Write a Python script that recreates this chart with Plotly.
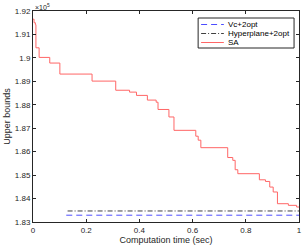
import plotly.graph_objects as go

# SA step data (x: computation time in sec, y: upper bound in units of 1e5)
sa_time = [0.0, 0.004, 0.009, 0.011, 0.023, 0.063, 0.101, 0.222, 0.311, 0.363,
           0.389, 0.430, 0.463, 0.470, 0.511, 0.530, 0.612, 0.621, 0.631, 0.732,
           0.751, 0.760, 0.770, 0.851, 0.874, 0.890, 0.903, 0.919, 0.960, 0.991, 1.0]
sa_bound = [1.9165, 1.9150, 1.9142, 1.9043, 1.9002, 1.8978, 1.8931, 1.8901, 1.8862, 1.8854,
            1.8840, 1.8820, 1.8811, 1.8780, 1.8748, 1.8691, 1.8666, 1.8649, 1.8617, 1.8575,
            1.8563, 1.8523, 1.8506, 1.8480, 1.8473, 1.8449, 1.8428, 1.8378, 1.8371, 1.8364, 1.8364]

vc_time = [0.125, 1.0]
vc_bound = [1.8329, 1.8329]
hp_time = [0.13, 1.0]
hp_bound = [1.8347, 1.8347]

x_ticks = [0, 0.2, 0.4, 0.6, 0.8, 1.0]
x_ticktext = ["0", "0.2", "0.4", "0.6", "0.8", "1"]
y_ticks = [1.83, 1.84, 1.85, 1.86, 1.87, 1.88, 1.89, 1.90, 1.91, 1.92]
y_ticktext = ["1.83", "1.84", "1.85", "1.86", "1.87", "1.88", "1.89", "1.9", "1.91", "1.92"]

series_names = ["Vc+2opt", "Hyperplane+2opt", "SA"]
series_colors = ["#4d4dff", "#404040", "#ff6666"]
series_dash = ["6px,4px", "5px,2px,1px,2px", "solid"]

FONT = "Liberation Sans, Arial, Helvetica, sans-serif"
AX = "#262626"

W, H = 305, 248
ML, MR, MT, MB = 33, 3, 11, 26
PW, PH = W - ML - MR, H - MT - MB


def px_x(p):
    return (p - ML) / PW


def px_y(p):
    return (H - MB - p) / PH


fig = go.Figure()
fig.add_trace(go.Scatter(x=vc_time, y=vc_bound, mode="lines", name=series_names[0],
                         showlegend=False,
                         line=dict(color=series_colors[0], width=1, dash=series_dash[0])))
fig.add_trace(go.Scatter(x=hp_time, y=hp_bound, mode="lines", name=series_names[1],
                         showlegend=False,
                         line=dict(color=series_colors[1], width=1, dash=series_dash[1])))
fig.add_trace(go.Scatter(x=sa_time, y=sa_bound, mode="lines", name=series_names[2],
                         showlegend=False,
                         line=dict(color=series_colors[2], width=1, shape="hv")))

axis_common = dict(showline=True, linecolor=AX, linewidth=1, mirror="allticks",
                   ticks="inside", ticklen=3, tickcolor=AX, showgrid=False,
                   zeroline=False, tickfont=dict(family=FONT, size=8, color=AX))

fig.update_xaxes(range=[0, 1], tickvals=x_ticks, ticktext=x_ticktext,
                 title=dict(text="Computation time (sec)", font=dict(family=FONT, size=9, color=AX), standoff=3),
                 **axis_common)
fig.update_yaxes(range=[1.83, 1.92], tickvals=y_ticks, ticktext=y_ticktext,
                 title=dict(text="Upper bounds", font=dict(family=FONT, size=9, color=AX), standoff=2),
                 **axis_common)

fig.add_annotation(x=0, y=1, xref="paper", yref="paper", xanchor="left", yanchor="bottom",
                   text="×10<sup>5</sup>", showarrow=False,
                   font=dict(family=FONT, size=7, color=AX), xshift=0, yshift=-2)

# Compact MATLAB-style legend box
box_l, box_r, box_t, box_b = 200, 297, 18, 48
fig.add_shape(type="rect", xref="paper", yref="paper",
              x0=px_x(box_l), x1=px_x(box_r), y0=px_y(box_b), y1=px_y(box_t),
              line=dict(color=AX, width=1), fillcolor="white", layer="above")
row_y = [24.5, 33.5, 42.5]
for name, col, dsh, ry in zip(series_names, series_colors, series_dash, row_y):
    fig.add_shape(type="line", xref="paper", yref="paper",
                  x0=px_x(203), x1=px_x(226), y0=px_y(ry), y1=px_y(ry),
                  line=dict(color=col, width=1, dash=dsh), layer="above")
    fig.add_annotation(x=px_x(228), y=px_y(ry), xref="paper", yref="paper",
                       xanchor="left", yanchor="middle", text=name, showarrow=False,
                       font=dict(family=FONT, size=8, color="#000000"))

fig.update_layout(
    width=W, height=H,
    margin=dict(l=ML, r=MR, t=MT, b=MB),
    paper_bgcolor="white", plot_bgcolor="white",
    showlegend=False,
)

fig.write_html("out.html", config={"displayModeBar": False},
               post_script="document.body.style.margin='0';document.body.style.padding='0';")
